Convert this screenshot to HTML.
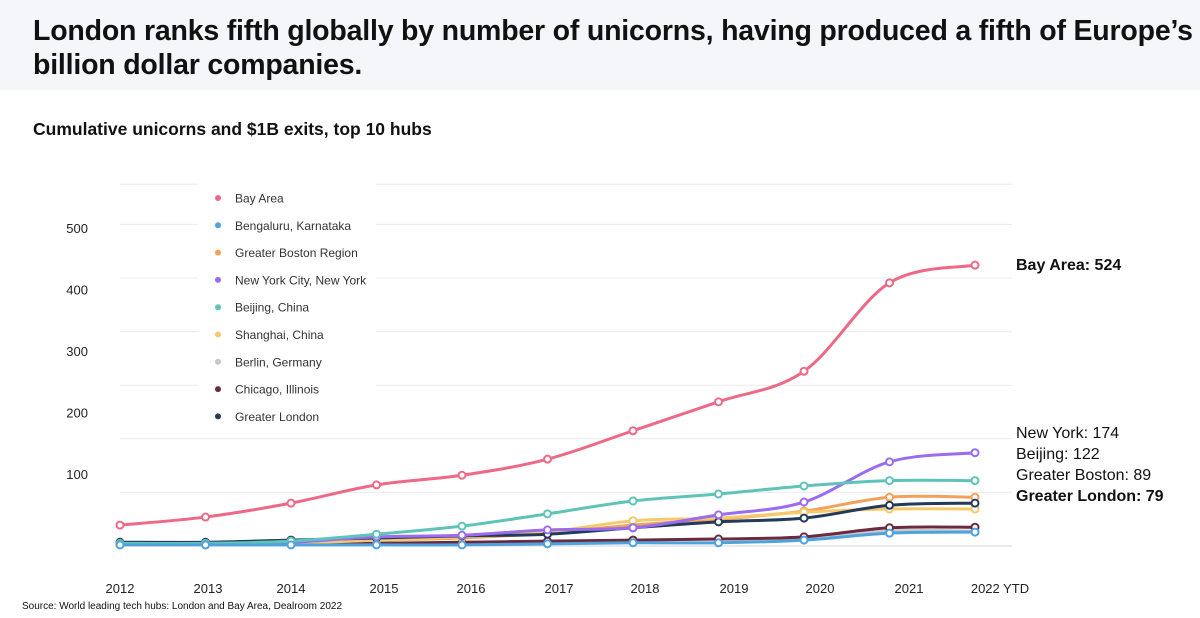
<!DOCTYPE html>
<html><head><meta charset="utf-8"><style>
body{margin:0;width:1200px;height:618px;background:#fff;font-family:"Liberation Sans",sans-serif;overflow:hidden;position:relative}
#hdr{position:absolute;left:0;top:0;width:1200px;height:90px;background:#f4f6fa}
#title{position:absolute;left:33px;top:14px;font-size:28.5px;font-weight:bold;color:#111;line-height:34px;letter-spacing:-0.2px}
#sub{position:absolute;left:33px;top:119px;font-size:17.5px;font-weight:bold;color:#111}
#src{position:absolute;left:22px;top:601px;font-size:10px;color:#111}
svg{position:absolute;left:0;top:0}
</style></head><body>
<div id="hdr"></div>
<div id="title">London ranks fifth globally by number of unicorns, having produced a fifth of Europe’s billion dollar companies.</div>
<div id="sub">Cumulative unicorns and $1B exits, top 10 hubs</div>
<div id="src">Source: World leading tech hubs: London and Bay Area, Dealroom 2022</div>
<svg id="c" width="1200" height="618"></svg>
<script>
const years=["2012","2013","2014","2015","2016","2017","2018","2019","2020","2021","2022 YTD"];
const yTicks=[100,200,300,400,500];
const gridVals=[0,100,200,300,400,500,600,675];
const names=["Bay Area","Bengaluru, Karnataka","Greater Boston Region","New York City, New York","Beijing, China","Shanghai, China","Berlin, Germany","Chicago, Illinois","Greater London"];
const colors=["#ec6a86","#4fa3dd","#f2a15a","#9a6cf0","#5fc4b8","#f6c96a","#c8c8cc","#6b2b3e","#243a5a"];
const bayArea=[39,54,80,114,132,162,215,269,326,491,524];
const bengaluru=[2,2,2,2,2,4,6,6,11,24,26];
const boston=[4,4,6,11,15,24,39,50,65,91,91];
const newYork=[4,5,7,17,20,30,34,58,82,157,174];
const beijing=[5,5,9,22,37,60,84,97,112,122,122];
const shanghai=[2,2,5,11,17,26,47,52,63,69,69];
const berlin=[3,3,4,5,5,7,11,13,15,28,28];
const chicago=[5,5,4,5,7,9,11,13,17,34,35];
const london=[7,7,11,15,19,22,34,45,52,76,80];
const series=[bayArea,bengaluru,boston,newYork,beijing,shanghai,berlin,chicago,london];
const drawOrder=[6,7,2,5,8,3,4,1,0];
const NS="http://www.w3.org/2000/svg";
const svg=document.getElementById('c');
const X=i=>120+i*85.5;
const Y=v=>546-v*0.536;
const YL=v=>228+(500-v)*0.615;
function mk(t,a,p){const e=document.createElementNS(NS,t);for(const k in a)e.setAttribute(k,a[k]);(p||svg).appendChild(e);return e;}
gridVals.forEach(v=>{
 const g=mk('line',{x1:120,x2:1012,y1:Y(v),y2:Y(v),stroke:v==0?'#d4d4d8':'#ececf0','stroke-width':1});
 
 
});
yTicks.forEach(v=>{
 const t=mk('text',{x:88,y:YL(v)+5,'text-anchor':'end','font-size':13,fill:'#222','font-family':'Liberation Sans, sans-serif'});t.textContent=v;
 
 
});
const xl=[120,208,291,384,471,559,645,734,820,909,1000];
years.forEach((y,i)=>{
 const t=mk('text',{x:xl[i],y:593,'text-anchor':'middle','font-size':13,fill:'#222','font-family':'Liberation Sans, sans-serif'});t.textContent=y;
 
 
});
function path(d){
 const p=d.map((v,i)=>[X(i),Y(v)]);let s='M'+p[0][0]+','+p[0][1];
 for(let i=0;i<p.length-1;i++){const p0=p[Math.max(0,i-1)],p1=p[i],p2=p[i+1],p3=p[Math.min(p.length-1,i+2)];
  const c1=[p1[0]+(p2[0]-p0[0])/6,p1[1]+(p2[1]-p0[1])/6],c2=[p2[0]-(p3[0]-p1[0])/6,p2[1]-(p3[1]-p1[1])/6];
  s+=` C${c1[0]},${c1[1]} ${c2[0]},${c2[1]} ${p2[0]},${p2[1]}`;}
 return s;
}
drawOrder.forEach(k=>{
 const g=mk('g',{});
 
 
 const l=mk('path',{d:path(series[k]),fill:'none',stroke:colors[k],'stroke-width':3},g);
 
 
 series[k].forEach((v,i)=>{
  const c=mk('circle',{cx:X(i),cy:Y(v),r:3.5,fill:'#fff',stroke:colors[k],'stroke-width':2},g);
  
  
 });
});
const lg=mk('rect',{x:198,y:182,width:178,height:250,fill:'#fff'});


names.forEach((n,i)=>{
 const y=198+i*27.3;
 const d=mk('circle',{cx:218,cy:y,r:3,fill:colors[i]});
 
 
 const t=mk('text',{x:235,y:y+4.5,'font-size':12,fill:'#333','font-family':'Liberation Sans, sans-serif'});t.textContent=n;
 
 
});
const ann=[["Bay Area: 524",270,true],["New York: 174",438,false],["Beijing: 122",459,false],["Greater Boston: 89",480,false],["Greater London: 79",501,true]];
ann.forEach(a=>{
 const t=mk('text',{x:1016,y:a[1],'font-size':16,fill:'#111','font-weight':a[2]?'bold':'normal','font-family':'Liberation Sans, sans-serif'});t.textContent=a[0];
 
 
});
</script>
</body></html>
